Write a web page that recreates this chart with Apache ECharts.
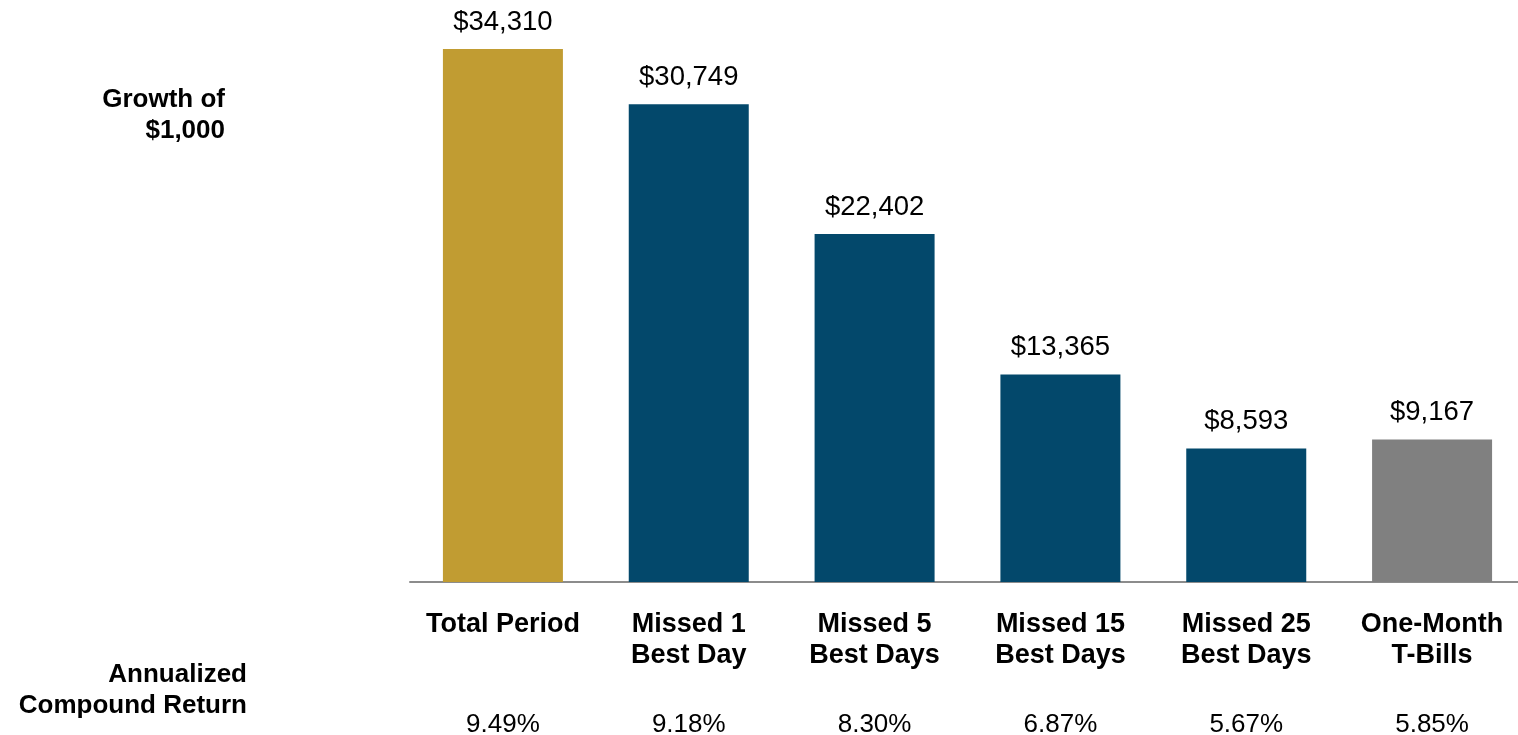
<!DOCTYPE html>
<html>
<head>
<meta charset="utf-8">
<script src="https://cdn.jsdelivr.net/npm/echarts@6/dist/echarts.min.js"></script>
<style>
  html, body { margin: 0; padding: 0; background: #fff; }
  #chart { width: 1518px; height: 735px; }
</style>
</head>
<body>
<div id="chart"></div>
<script>
var categories = ['Total Period', 'Missed 1\nBest Day', 'Missed 5\nBest Days', 'Missed 15\nBest Days', 'Missed 25\nBest Days', 'One-Month\nT-Bills'];
var growthValues = [34310, 30749, 22402, 13365, 8593, 9167];
var annualReturns = ['9.49%', '9.18%', '8.30%', '6.87%', '5.67%', '5.85%'];
var barColors = ['#C19C32', '#03486B', '#03486B', '#03486B', '#03486B', '#808080'];

var FONT = '"Liberation Sans", Arial, sans-serif';
var chart = echarts.init(document.getElementById('chart'));

// left-side headings, one text per line so they can be right-aligned
function heading(lines, xRight, yTop) {
  return lines.map(function (t, i) {
    return {
      type: 'text', x: xRight, y: yTop + i * 31,
      style: { text: t, fill: '#000', font: 'bold 26px ' + FONT, align: 'right', verticalAlign: 'middle' }
    };
  });
}

chart.setOption({
  animation: false,
  backgroundColor: '#fff',
  grid: { left: 410, width: 1115, top: 49, bottom: 153, outerBoundsMode: 'none' },
  xAxis: [{
    type: 'category',
    data: categories,
    axisLine: { lineStyle: { color: '#8c8c8c', width: 2 } },
    axisTick: { show: false },
    axisLabel: {
      interval: 0, margin: 27, color: '#000', fontFamily: FONT,
      fontSize: 27, fontWeight: 'bold', lineHeight: 31
    }
  }, {
    type: 'category',
    data: annualReturns,
    position: 'bottom',
    offset: 118,
    axisLine: { show: false },
    axisTick: { show: false },
    axisLabel: { interval: 0, margin: 12, color: '#000', fontFamily: FONT, fontSize: 26 }
  }],
  yAxis: {
    type: 'value', min: 0, max: 34310, show: false,
    splitLine: { show: false }
  },
  series: [{
    type: 'bar',
    barWidth: 120,
    data: growthValues.map(function (v, i) {
      return { value: v, itemStyle: { color: barColors[i] } };
    }),
    label: {
      show: true, position: 'top', distance: 13,
      color: '#000', fontFamily: FONT, fontSize: 27.5,
      formatter: function (p) { return '$' + p.value.toLocaleString('en-US'); }
    }
  }],
  graphic: heading(['Growth of', '$1,000'], 225, 100)
    .concat(heading(['Annualized', 'Compound Return'], 247, 675))
});
</script>
</body>
</html>
